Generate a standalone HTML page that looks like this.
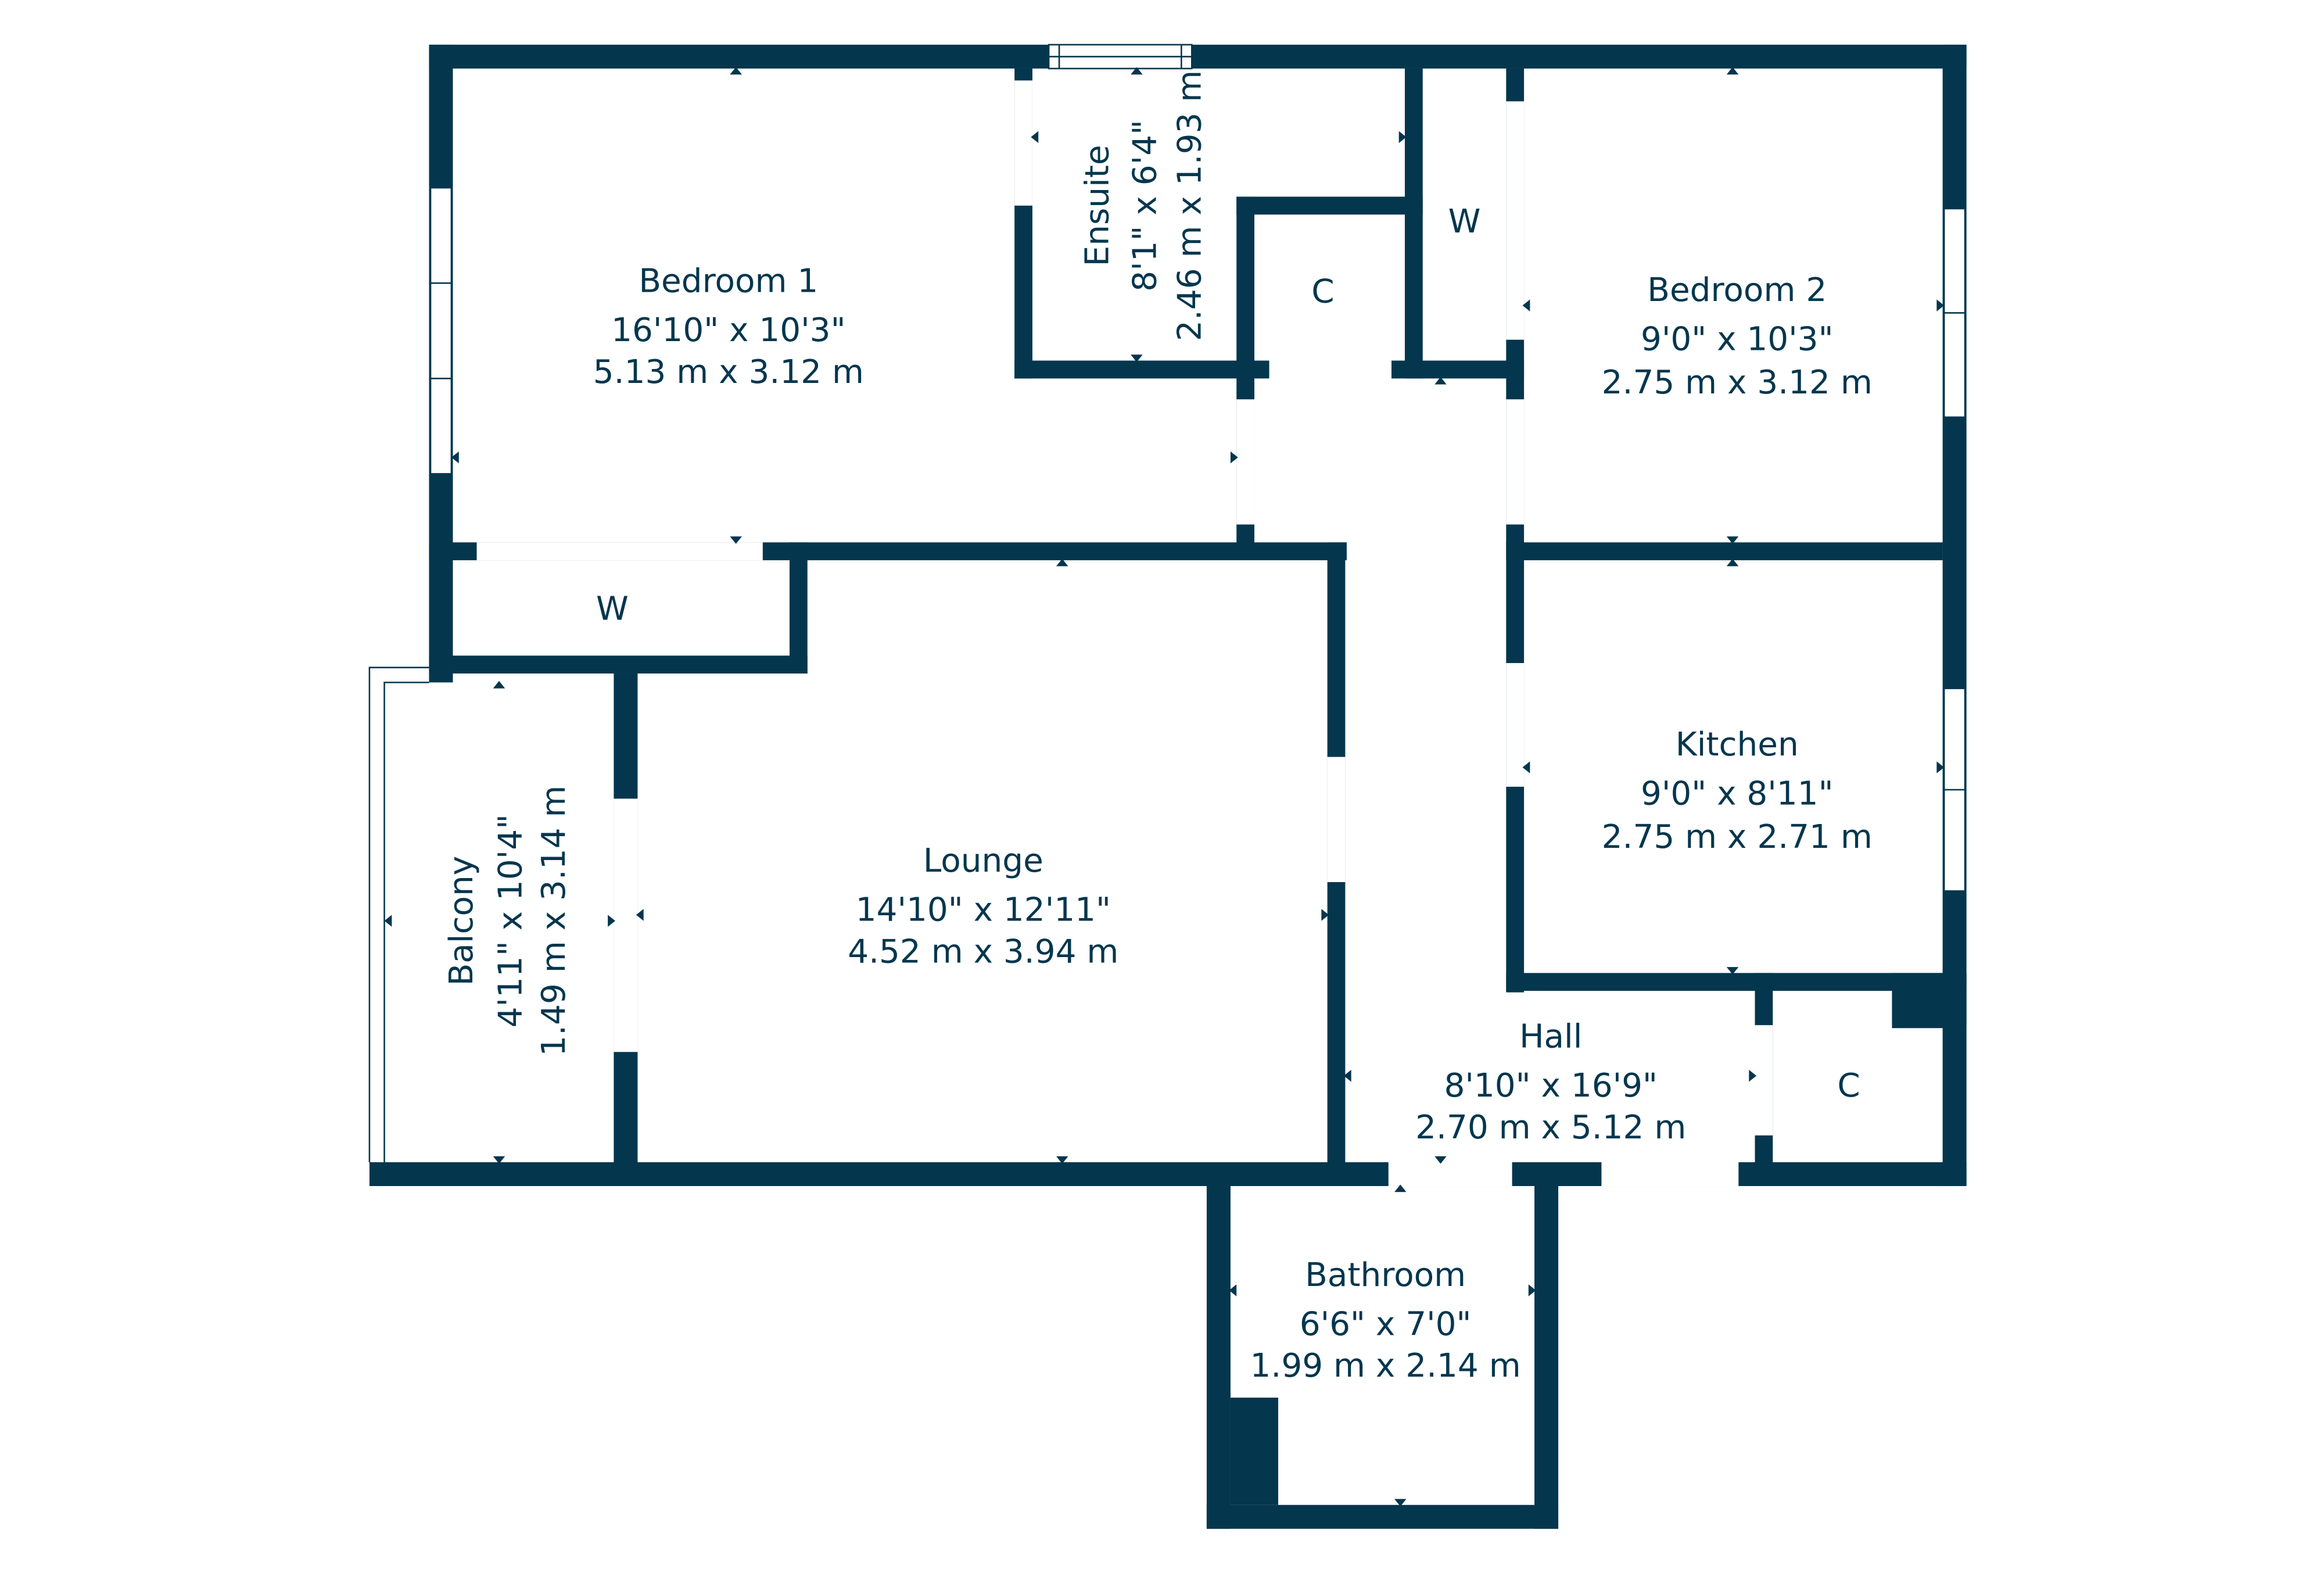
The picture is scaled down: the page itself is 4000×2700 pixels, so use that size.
<!DOCTYPE html>
<html><head><meta charset="utf-8"><style>
html,body{margin:0;padding:0;background:#fff}
svg{display:block}
text{font-family:"DejaVu Sans","Liberation Sans",sans-serif;fill:#04364e;font-size:22px;text-anchor:middle}
</style></head><body>
<svg width="4000" height="2700" viewBox="0 0 1560 1053" xmlns="http://www.w3.org/2000/svg">
<g fill="#04364e">
<rect x="288" y="30" width="1032" height="16"/>
<rect x="288" y="30" width="16" height="428"/>
<rect x="1304" y="30" width="16" height="766"/>
<rect x="248" y="780" width="1072" height="16"/>
<rect x="681" y="46" width="12" height="208"/>
<rect x="681" y="242" width="171" height="12"/>
<rect x="943" y="46" width="12" height="208"/>
<rect x="830" y="132" width="125" height="12"/>
<rect x="830" y="132" width="12" height="238"/>
<rect x="934" y="242" width="89" height="12"/>
<rect x="1011" y="46" width="12" height="620"/>
<rect x="1011" y="364" width="293" height="12"/>
<rect x="1011" y="653" width="309" height="12"/>
<rect x="1270" y="653" width="50" height="37"/>
<rect x="1178" y="653" width="12" height="127"/>
<rect x="288" y="364" width="616" height="12"/>
<rect x="530" y="364" width="12" height="88"/>
<rect x="288" y="440" width="254" height="12"/>
<rect x="891" y="364" width="12" height="416"/>
<rect x="412" y="452" width="16" height="328"/>
<rect x="810" y="780" width="16" height="246"/>
<rect x="810" y="1010" width="236" height="16"/>
<rect x="1030" y="780" width="16" height="246"/>
<rect x="826" y="938" width="32" height="72"/>
</g>
<g fill="#fff">
<rect x="704" y="30" width="96" height="16" stroke="#04364e" stroke-width="1"/>
<rect x="289" y="126" width="14" height="192" stroke="#04364e" stroke-width="1"/>
<rect x="681" y="54" width="12" height="84"/>
<rect x="852" y="242" width="82" height="12"/>
<rect x="1011" y="68" width="12" height="160"/>
<rect x="1011" y="268" width="12" height="84"/>
<rect x="830" y="268" width="12" height="84"/>
<rect x="320" y="364" width="192" height="12"/>
<rect x="891" y="508" width="12" height="84"/>
<rect x="412" y="536" width="16" height="170"/>
<rect x="1011" y="445" width="12" height="83"/>
<rect x="1305" y="140" width="14" height="140" stroke="#04364e" stroke-width="1"/>
<rect x="1305" y="462" width="14" height="136" stroke="#04364e" stroke-width="1"/>
<rect x="1178" y="688" width="12" height="74"/>
<rect x="932" y="780" width="83" height="16"/>
<rect x="1075" y="780" width="92" height="16"/>
</g>
<g stroke="#04364e" stroke-width="1" fill="none">
<line x1="704" y1="38" x2="800" y2="38"/><line x1="711" y1="30" x2="711" y2="46"/><line x1="793" y1="30" x2="793" y2="46"/>
<line x1="289" y1="190" x2="303" y2="190"/><line x1="289" y1="254" x2="303" y2="254"/>
<line x1="1305" y1="210" x2="1319" y2="210"/><line x1="1305" y1="530" x2="1319" y2="530"/>
<polyline points="248,780 248,448 288,448"/>
<polyline points="258,780 258,458 288,458"/>
</g>
<g fill="#04364e">
<polygon points="490,50 498,50 494,45"/><polygon points="490,360 498,360 494,365"/>
<polygon points="759,50 767,50 763,45"/><polygon points="759,238 767,238 763,243"/>
<polygon points="697,88 697,96 692,92"/><polygon points="939,88 939,96 944,92"/>
<polygon points="1159,50 1167,50 1163,45"/><polygon points="1159,360 1167,360 1163,365"/>
<polygon points="1159,380 1167,380 1163,375"/><polygon points="1159,649 1167,649 1163,654"/>
<polygon points="1027,201 1027,209 1022,205"/><polygon points="1300,201 1300,209 1305,205"/>
<polygon points="1027,511 1027,519 1022,515"/><polygon points="1300,511 1300,519 1305,515"/>
<polygon points="308,303 308,311 303,307"/><polygon points="826,303 826,311 831,307"/>
<polygon points="709,380 717,380 713,375"/><polygon points="709,776 717,776 713,781"/>
<polygon points="432,610 432,618 427,614"/><polygon points="887,610 887,618 892,614"/>
<polygon points="331,462 339,462 335,457"/><polygon points="331,776 339,776 335,781"/>
<polygon points="263,614 263,622 258,618"/><polygon points="408,614 408,622 413,618"/>
<polygon points="963,258 971,258 967,253"/><polygon points="963,776 971,776 967,781"/>
<polygon points="907,718 907,726 902,722"/><polygon points="1174,718 1174,726 1179,722"/>
<polygon points="936,800 944,800 940,795"/><polygon points="936,1006 944,1006 940,1011"/>
<polygon points="830,862 830,870 825,866"/><polygon points="1026,862 1026,870 1031,866"/>
</g>
<text x="489" y="196">Bedroom 1</text>
<text x="489" y="229">16'10" x 10'3"</text>
<text x="489" y="257">5.13 m x 3.12 m</text>
<text x="1166" y="202">Bedroom 2</text>
<text x="1166" y="235">9'0" x 10'3"</text>
<text x="1166" y="264">2.75 m x 3.12 m</text>
<text x="1166" y="507">Kitchen</text>
<text x="1166" y="540">9'0" x 8'11"</text>
<text x="1166" y="569">2.75 m x 2.71 m</text>
<text x="660" y="585">Lounge</text>
<text x="660" y="618">14'10" x 12'11"</text>
<text x="660" y="646">4.52 m x 3.94 m</text>
<text x="1041" y="703">Hall</text>
<text x="1041" y="736">8'10" x 16'9"</text>
<text x="1041" y="764">2.70 m x 5.12 m</text>
<text x="930" y="863">Bathroom</text>
<text x="930" y="896">6'6" x 7'0"</text>
<text x="930" y="924">1.99 m x 2.14 m</text>
<text x="411" y="416">W</text>
<text x="983" y="156">W</text>
<text x="888" y="203">C</text>
<text x="1241" y="736">C</text>
<g transform="translate(744,138) rotate(-90)"><text x="0" y="0">Ensuite</text></g>
<g transform="translate(776,138) rotate(-90)"><text x="0" y="0">8'1" x 6'4"</text></g>
<g transform="translate(806,138) rotate(-90)"><text x="0" y="0">2.46 m x 1.93 m</text></g>
<g transform="translate(317,618) rotate(-90)"><text x="0" y="0">Balcony</text></g>
<g transform="translate(350,618) rotate(-90)"><text x="0" y="0">4'11" x 10'4"</text></g>
<g transform="translate(379,618) rotate(-90)"><text x="0" y="0">1.49 m x 3.14 m</text></g>
</svg>
</body></html>
